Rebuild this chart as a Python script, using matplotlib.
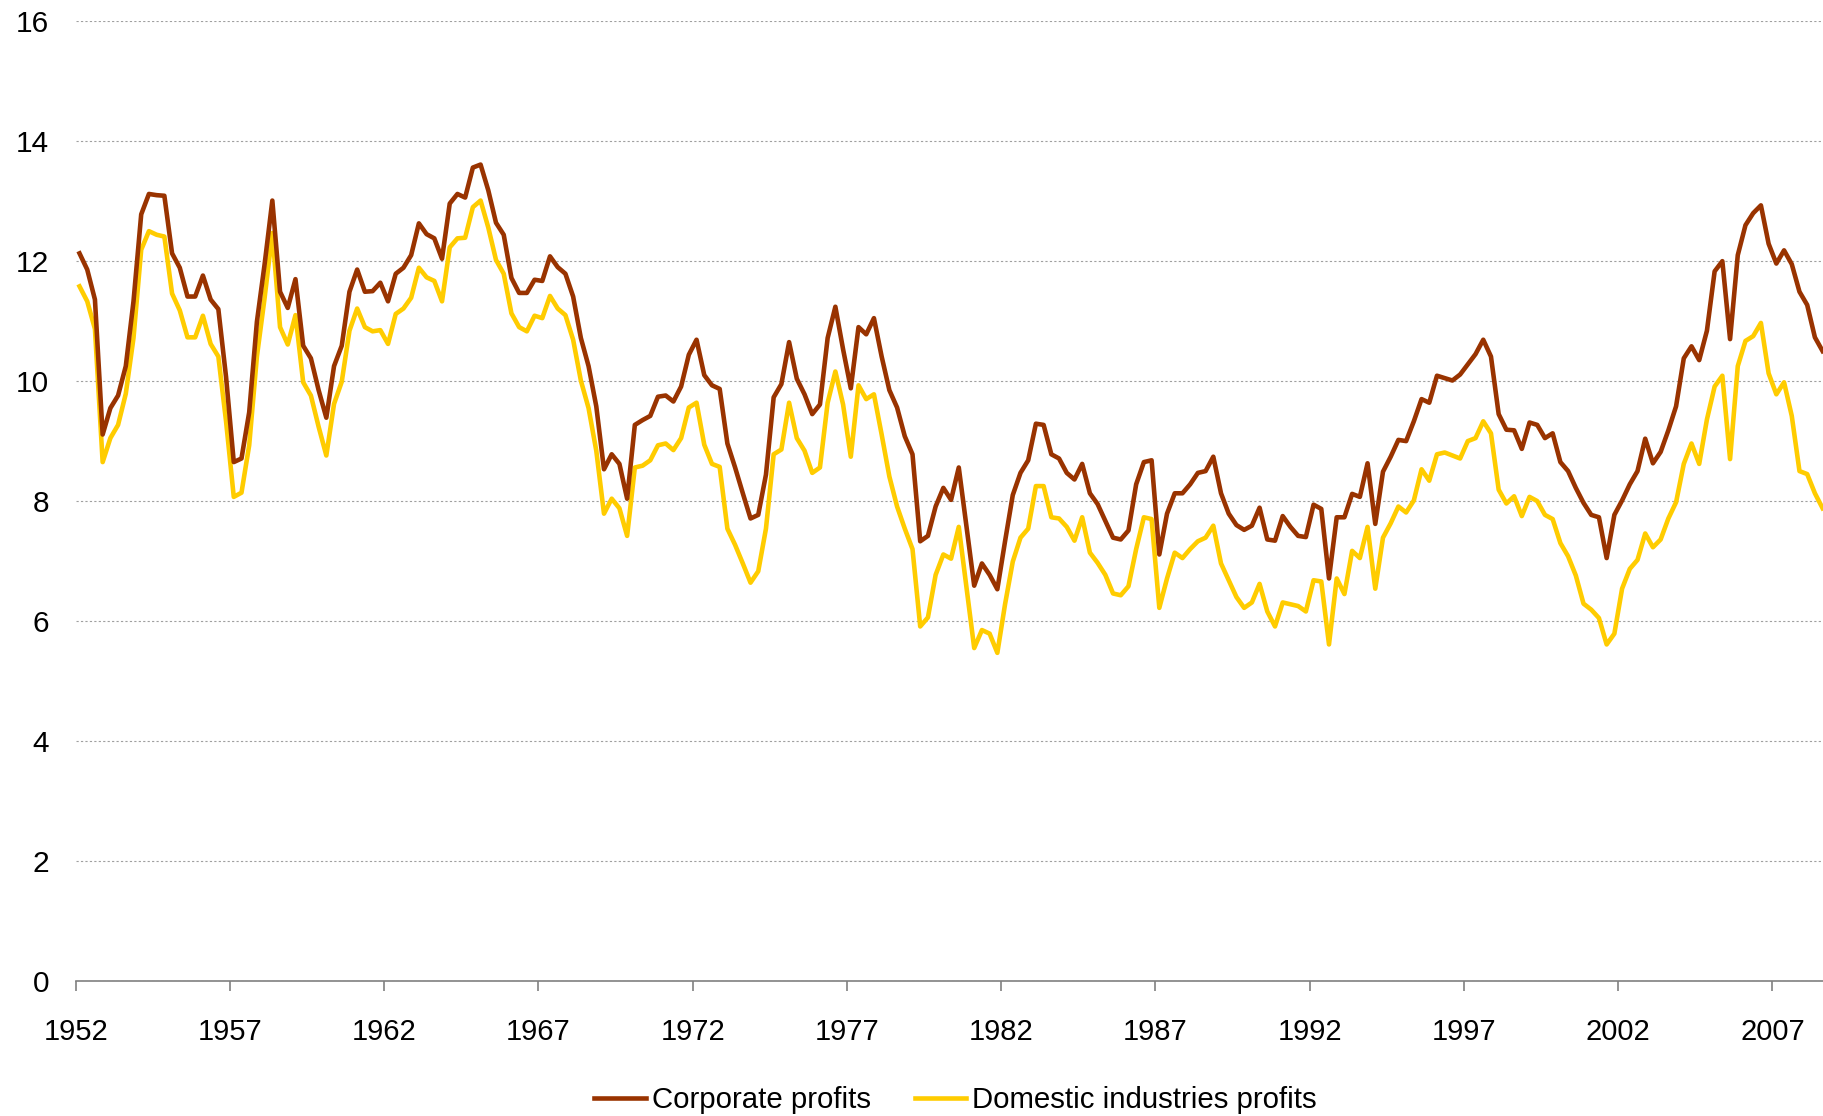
import numpy as np
import matplotlib
matplotlib.use('Agg')
import matplotlib.pyplot as plt

# quarterly data, 1952Q1 - 2008Q3
corporate = [
    12.13, 11.86, 11.36, 9.11, 9.55, 9.76, 10.25, 11.33, 12.78, 13.12,
    13.10, 13.09, 12.13, 11.89, 11.41, 11.41, 11.76, 11.36, 11.20, 10.07,
    8.65, 8.71, 9.48, 10.99, 11.95, 13.01, 11.49, 11.22, 11.70, 10.59,
    10.38, 9.85, 9.39, 10.25, 10.59, 11.49, 11.86, 11.49, 11.50, 11.64,
    11.33, 11.79, 11.89, 12.10, 12.63, 12.45, 12.38, 12.04, 12.96, 13.12,
    13.06, 13.56, 13.61, 13.18, 12.64, 12.44, 11.72, 11.47, 11.47, 11.69,
    11.67, 12.08, 11.90, 11.79, 11.41, 10.72, 10.25, 9.58, 8.53, 8.78,
    8.62, 8.04, 9.27, 9.35, 9.42, 9.74, 9.76, 9.66, 9.91, 10.44,
    10.69, 10.10, 9.93, 9.87, 8.96, 8.56, 8.13, 7.71, 7.77, 8.44,
    9.73, 9.95, 10.65, 10.04, 9.78, 9.45, 9.61, 10.72, 11.24, 10.53,
    9.88, 10.90, 10.78, 11.05, 10.41, 9.85, 9.56, 9.08, 8.78, 7.33,
    7.42, 7.91, 8.22, 8.02, 8.56, 7.57, 6.59, 6.96, 6.77, 6.53,
    7.33, 8.10, 8.47, 8.68, 9.29, 9.27, 8.78, 8.71, 8.47, 8.36,
    8.62, 8.13, 7.95, 7.67, 7.39, 7.36, 7.51, 8.28, 8.65, 8.68,
    7.11, 7.79, 8.13, 8.13, 8.28, 8.47, 8.50, 8.74, 8.13, 7.79,
    7.60, 7.52, 7.59, 7.89, 7.36, 7.34, 7.75, 7.57, 7.42, 7.40,
    7.94, 7.87, 6.71, 7.73, 7.73, 8.12, 8.07, 8.63, 7.62, 8.49,
    8.74, 9.02, 9.00, 9.33, 9.70, 9.64, 10.09, 10.05, 10.01, 10.11,
    10.28, 10.45, 10.69, 10.41, 9.45, 9.19, 9.18, 8.87, 9.31, 9.27,
    9.05, 9.13, 8.65, 8.50, 8.22, 7.97, 7.77, 7.73, 7.05, 7.77,
    8.01, 8.28, 8.50, 9.04, 8.63, 8.82, 9.18, 9.58, 10.38, 10.58,
    10.35, 10.84, 11.83, 12.00, 10.70, 12.10, 12.60, 12.80, 12.93, 12.29,
    11.96, 12.18, 11.95, 11.49, 11.27, 10.73, 10.50,
]

domestic = [
    11.58, 11.33, 10.87, 8.65, 9.05, 9.27, 9.79, 10.72, 12.19, 12.50,
    12.44, 12.41, 11.46, 11.18, 10.73, 10.73, 11.09, 10.62, 10.41, 9.33,
    8.07, 8.14, 8.93, 10.41, 11.39, 12.47, 10.90, 10.61, 11.10, 9.98,
    9.76, 9.24, 8.76, 9.62, 9.99, 10.84, 11.21, 10.90, 10.83, 10.85,
    10.62, 11.12, 11.21, 11.39, 11.89, 11.73, 11.67, 11.33, 12.23, 12.38,
    12.39, 12.90, 13.01, 12.56, 12.02, 11.79, 11.13, 10.90, 10.83, 11.09,
    11.05, 11.42, 11.21, 11.10, 10.69, 10.01, 9.55, 8.84, 7.79, 8.04,
    7.88, 7.42, 8.56, 8.59, 8.68, 8.93, 8.96, 8.85, 9.05, 9.56,
    9.64, 8.94, 8.62, 8.57, 7.54, 7.27, 6.96, 6.64, 6.83, 7.54,
    8.78, 8.86, 9.64, 9.05, 8.84, 8.47, 8.56, 9.64, 10.16, 9.61,
    8.74, 9.93, 9.70, 9.78, 9.11, 8.41, 7.91, 7.54, 7.20, 5.91,
    6.06, 6.77, 7.11, 7.04, 7.57, 6.56, 5.55, 5.85, 5.79, 5.47,
    6.28, 6.99, 7.39, 7.54, 8.25, 8.25, 7.73, 7.71, 7.57, 7.34,
    7.73, 7.14, 6.97, 6.77, 6.46, 6.43, 6.58, 7.20, 7.73, 7.70,
    6.22, 6.71, 7.14, 7.05, 7.20, 7.33, 7.39, 7.59, 6.96, 6.68,
    6.40, 6.22, 6.31, 6.62, 6.16, 5.91, 6.31, 6.28, 6.25, 6.16,
    6.68, 6.66, 5.61, 6.71, 6.45, 7.17, 7.05, 7.57, 6.54, 7.39,
    7.63, 7.91, 7.81, 8.01, 8.53, 8.34, 8.78, 8.81, 8.76, 8.71,
    9.00, 9.05, 9.33, 9.13, 8.19, 7.96, 8.08, 7.75, 8.07, 8.00,
    7.77, 7.70, 7.30, 7.08, 6.76, 6.29, 6.19, 6.05, 5.61, 5.79,
    6.54, 6.87, 7.02, 7.46, 7.23, 7.36, 7.71, 7.98, 8.62, 8.96,
    8.62, 9.36, 9.91, 10.09, 8.70, 10.25, 10.67, 10.75, 10.97, 10.13,
    9.78, 9.98, 9.42, 8.50, 8.45, 8.13, 7.88,
]

year_labels = ['1952', '1957', '1962', '1967', '1972', '1977',
               '1982', '1987', '1992', '1997', '2002', '2007']

plt.rcParams['font.family'] = ['Liberation Sans', 'DejaVu Sans']

fig = plt.figure(figsize=(18.23, 11.16), dpi=100)
ax = fig.add_axes([0.0415, 0.121, 0.9585, 0.860])

x = np.arange(len(corporate))
ax.plot(x, corporate, color='#993300', lw=3.3, label='Corporate profits', zorder=3)
ax.plot(x, domestic, color='#FFCC00', lw=3.3, label='Domestic industries profits', zorder=2)

# y axis
ax.set_ylim(0, 16)
ax.set_yticks(range(0, 17, 2))
ax.yaxis.grid(True, color='#a0a0a0', linestyle=(0, (2, 2)), lw=0.8)
ax.set_axisbelow(True)

# x axis: one tick every 20 quarters, on the category boundary
ax.set_xlim(-0.5, 226.05)
ax.set_xticks(np.arange(len(year_labels)) * 20 - 0.5)
ax.set_xticklabels(year_labels)

for s in ['top', 'right', 'left']:
    ax.spines[s].set_visible(False)
ax.spines['bottom'].set_color('#808080')
ax.spines['bottom'].set_linewidth(1.2)
ax.tick_params(axis='x', length=7, width=1.2, color='#808080', pad=20,
               labelsize=21, labelcolor='black')
ax.tick_params(axis='y', length=0, pad=19, labelsize=21.5, labelcolor='black')

ax.legend(loc='center', bbox_to_anchor=(0.5035, -0.124), ncol=2, frameon=False,
          fontsize=21.2, handlelength=1.75, handletextpad=0.2, columnspacing=1.5)

fig.savefig('out.png', dpi=100)
